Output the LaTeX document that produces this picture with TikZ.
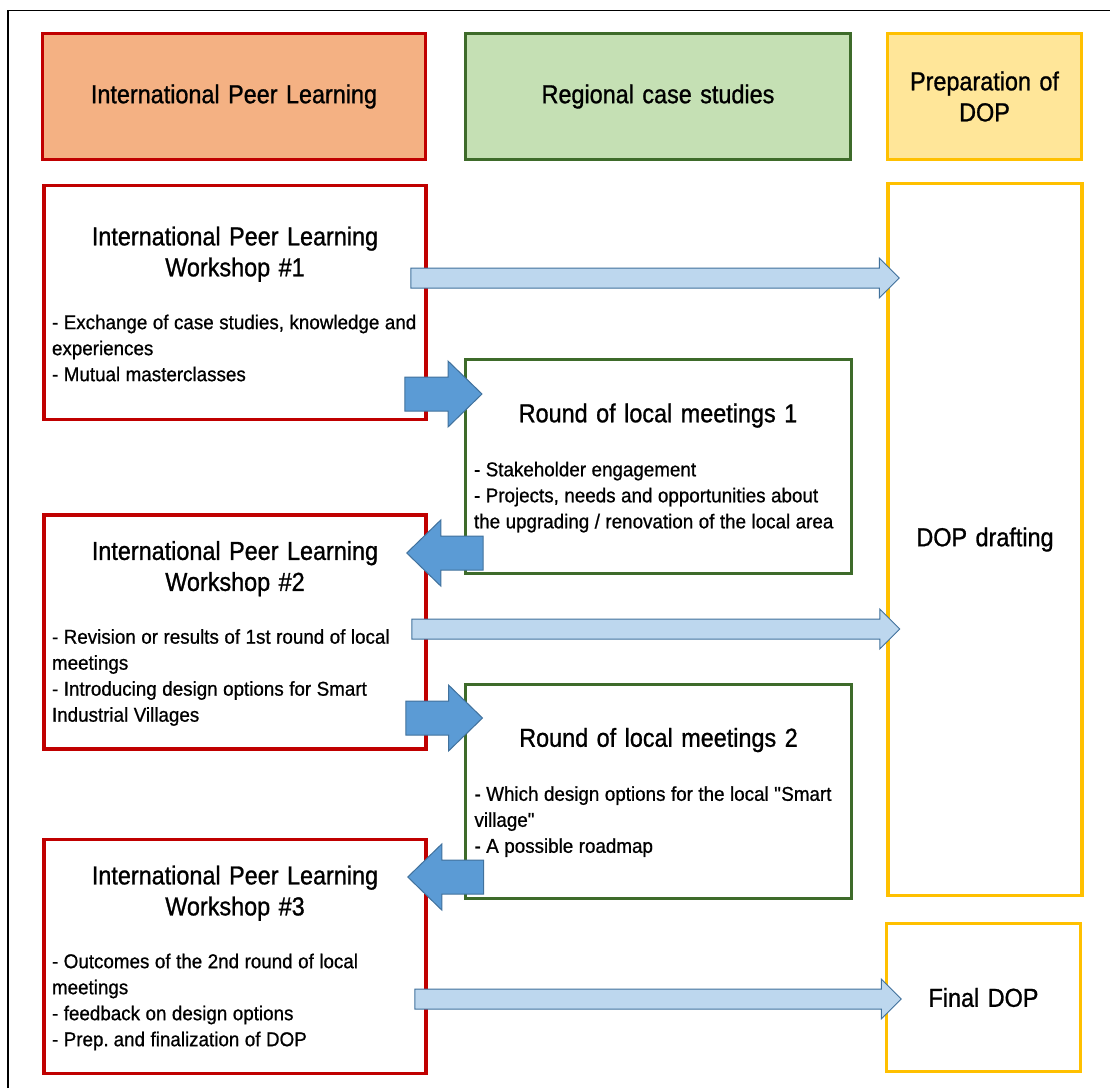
\documentclass[tikz,border=0pt]{standalone}
\usepackage{fontspec}
\setmainfont{Liberation Sans}[FakeStretch=0.9, FakeBold=1, WordSpace=1.3]
\newfontfamily\bodyfont{Liberation Sans}[FakeStretch=0.94, FakeBold=0.8, WordSpace=1.2]
\usepackage{tikz}
\usetikzlibrary{positioning,calc}
\definecolor{iplred}{HTML}{C00000}
\definecolor{iplfill}{HTML}{F4B183}
\definecolor{rcsgreen}{HTML}{3E6B2A}
\definecolor{rcsfill}{HTML}{C5E0B4}
\definecolor{dopyellow}{HTML}{FFC000}
\definecolor{dopfill}{HTML}{FFE699}
\definecolor{flowedge}{HTML}{41719C}
\definecolor{paleblue}{HTML}{BDD7EE}
\definecolor{strongblue}{HTML}{5B9BD5}
\newcommand{\titlesize}{\fontsize{26}{31}\selectfont}
\newcommand{\bodysize}{\bodyfont\fontsize{20}{26}\selectfont\spaceskip=5.5pt plus 2pt minus 1pt\relax}
\newcommand{\boxtitle}[1]{{\centering\titlesize\spaceskip=8.5pt\relax\begin{tabular}{@{}c@{}}#1\end{tabular}\par}\vspace{28pt}\raggedright\bodysize}
% horizontal block arrow: style, from, to, shaft half, head half, head length
\newcommand{\blockarrow}[6]{\draw[#1] let \p1=#2, \p2=#3, \n1={sign(\x2-\x1)} in
  (\x1,\y1+#4) -- (\x2-\n1*#6,\y1+#4) -- (\x2-\n1*#6,\y1+#5) -- (\x2,\y1)
  -- (\x2-\n1*#6,\y1-#5) -- (\x2-\n1*#6,\y1-#4) -- (\x1,\y1-#4) -- cycle;}
\tikzstyle{header} = [rectangle, draw, line width=3.5pt, minimum height=126pt, align=center, font=\titlesize]
\tikzstyle{workshop} = [rectangle, draw=iplred, line width=3.5pt, text width=366pt, inner xsep=8pt, minimum height=234pt]
\tikzstyle{meeting} = [rectangle, draw=rcsgreen, line width=3pt, text width=368pt, inner xsep=9pt, minimum height=214pt]
\tikzstyle{prepbox} = [rectangle, draw=dopyellow, line width=3.5pt, minimum width=194pt, align=center, font=\titlesize]
\tikzstyle{paleflow} = [draw=flowedge, fill=paleblue, line width=1pt]
\tikzstyle{strongflow} = [draw=flowedge, fill=strongblue, line width=1pt]
\begin{document}
\begin{tikzpicture}[x=1pt, y=-1pt]
	\useasboundingbox (0,0) rectangle (1110,1088);
	\draw[line width=1.5pt] (8,1088) -- (8,10.5) -- (1110,10.5);

	% column headers
	\node [header, draw=iplred, fill=iplfill, minimum width=383pt] (H1) at (234,96.5) {International Peer Learning};
	\node [header, draw=rcsgreen, line width=3pt, fill=rcsfill, minimum width=385pt] (H2) at (658,96.5) {Regional case studies};
	\node [header, draw=dopyellow, fill=dopfill, minimum width=194pt] (H3) at (984.5,96.5) {Preparation of\\DOP};

	% place nodes
	\node [workshop] (W1) at (235,302.5) {\boxtitle{International Peer Learning\\Workshop \#1}
		- Exchange of case studies, knowledge and\\experiences\\- Mutual masterclasses\par};
	\node [workshop] (W2) at (235,632) {\boxtitle{International Peer Learning\\Workshop \#2}
		- Revision or results of 1st round of local\\meetings\\- Introducing design options for Smart\\Industrial Villages\par};
	\node [workshop] (W3) at (235,956.5) {\boxtitle{International Peer Learning\\Workshop \#3}
		- Outcomes of the 2nd round of local\\meetings\\- feedback on design options\\- Prep. and finalization of DOP\par};
	\node [meeting] (RM1) at (658,466.5) {\boxtitle{Round of local meetings 1}
		- Stakeholder engagement\\- Projects, needs and opportunities about\\the upgrading / renovation of the local area\par};
	\node [meeting] (RM2) at (658.5,791) {\boxtitle{Round of local meetings 2}
		- Which design options for the local \textquotedbl Smart\\village\textquotedbl\\- A possible roadmap\par};
	\node [prepbox, minimum height=712pt] (DOPd) at (985,539.5) {DOP drafting};
	\node [prepbox, minimum height=148pt] (FDOP) at (983.5,997.5) {Final DOP};

	% draw arrows
	\blockarrow{paleflow}{($(W1.east)+(-17,-24.5)$)}{($(DOPd.west)+(13,0)$)}{10}{20}{20}
	\blockarrow{paleflow}{($(W2.east)+(-16,-3)$)}{($(DOPd.west)+(13.5,0)$)}{10}{20}{20}
	\blockarrow{paleflow}{($(W3.east)+(-13,42.5)$)}{($(FDOP.west)+(16.5,0)$)}{10}{20}{20}
	\blockarrow{strongflow}{($(W1.east)+(-23,91.5)$)}{($(RM1.west)+(18.5,0)$)}{17}{33}{34}
	\blockarrow{strongflow}{($(RM1.west)+(19.5,86.5)$)}{($(W2.east)+(-21,0)$)}{17}{33}{34}
	\blockarrow{strongflow}{($(W2.east)+(-22,86)$)}{($(RM2.west)+(18.5,0)$)}{17}{33}{34}
	\blockarrow{strongflow}{($(RM2.west)+(19.5,86)$)}{($(W3.east)+(-20,0)$)}{17}{33}{34}
\end{tikzpicture}
\end{document}
